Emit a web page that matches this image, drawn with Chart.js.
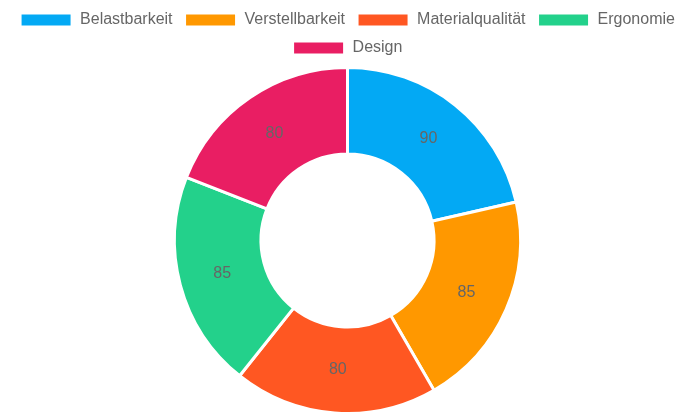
<!DOCTYPE html>
<html>
<head>
<meta charset="utf-8">
<script src="https://cdn.jsdelivr.net/npm/chart.js@4"></script>
<style>html,body{margin:0;padding:0;background:#fff}</style>
</head>
<body>
<canvas id="myChart" width="695" height="417"></canvas>
<script>
const labels = ['Belastbarkeit', 'Verstellbarkeit', 'Materialqualität', 'Ergonomie', 'Design'];
const values = [90, 85, 80, 85, 80];
const colors = ['#03a9f4', '#ff9800', '#ff5722', '#23d18b', '#e91e63'];

// draw value in the middle of each slice
const sliceLabels = {
  id: 'sliceLabels',
  afterDatasetsDraw(chart) {
    const ctx = chart.ctx;
    const meta = chart.getDatasetMeta(0);
    ctx.save();
    ctx.font = '16px "Liberation Sans", Arial, sans-serif';
    ctx.fillStyle = '#666';
    ctx.textAlign = 'center';
    ctx.textBaseline = 'middle';
    meta.data.forEach((arc, i) => {
      const p = arc.tooltipPosition();
      ctx.fillText(values[i], p.x, p.y);
    });
    ctx.restore();
  }
};

new Chart(document.getElementById('myChart'), {
  type: 'doughnut',
  data: {
    labels: labels,
    datasets: [{
      data: values,
      backgroundColor: colors,
      borderColor: '#fff',
      borderWidth: 3
    }]
  },
  options: {
    responsive: false,
    animation: false,
    cutout: '50%',
    layout: { padding: { bottom: 2 } },
    plugins: {
      legend: {
        position: 'top',
        labels: {
          boxWidth: 52,
          boxHeight: 14,
          padding: 12,
          color: '#666',
          font: { size: 16, family: '"Liberation Sans", Arial, sans-serif' }
        }
      },
      tooltip: { enabled: false }
    }
  },
  plugins: [sliceLabels]
});
</script>
</body>
</html>
